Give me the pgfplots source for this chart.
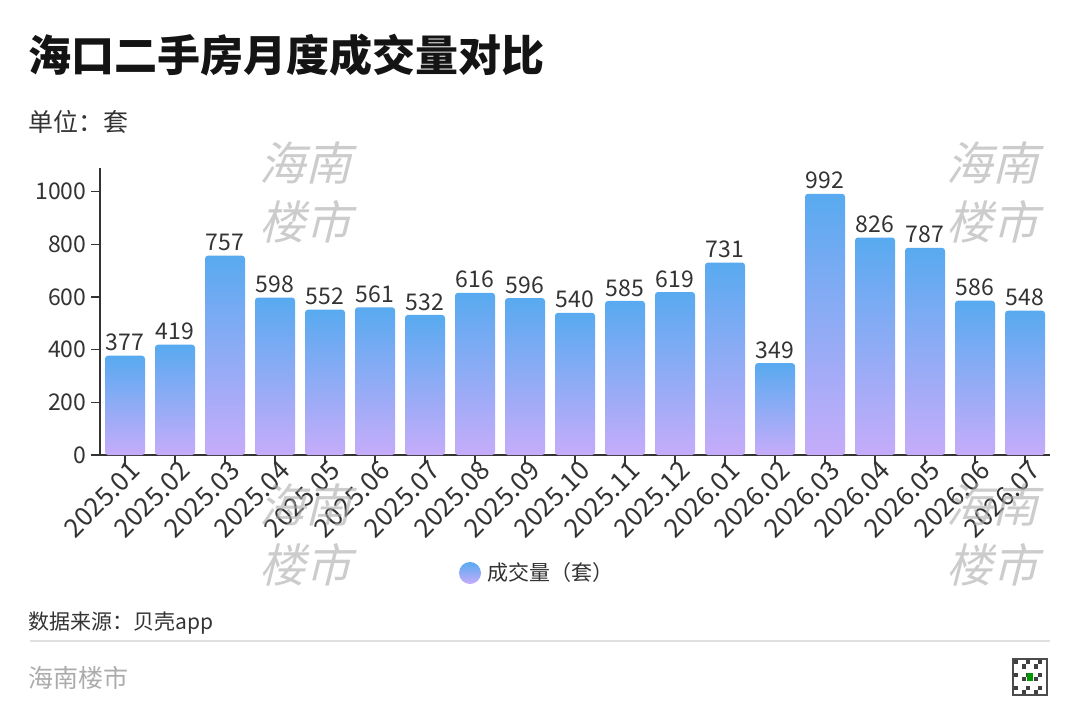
\documentclass[border=0pt]{standalone}
\usepackage{fontspec}
\setmainfont{Noto Sans CJK SC}
\usepackage{pgfplots}
\pgfplotsset{compat=1.18}
\definecolor{bartop}{RGB}{88,170,240}
\definecolor{barbot}{RGB}{198,172,250}
\definecolor{txt}{RGB}{51,51,51}
\definecolor{wmgray}{RGB}{170,170,170}
\newcommand{\wm}[2]{\node[font=\fontsize{46}{50}\selectfont, text=wmgray, opacity=0.6, xslant=0.25] at (#1) {#2};}
\newcommand{\onebar}[2]{\addplot[draw=none, top color=bartop, bottom color=barbot, rounded corners=3pt] coordinates {(#1,#2)};}
\begin{document}
\begin{tikzpicture}
\begin{scope}[x=1pt,y=1pt]
\useasboundingbox (0,0) rectangle (1080,-720);
\fill[white] (0,0) rectangle (1080,-720);
\node[anchor=west, font=\fontsize{43}{48}\selectfont\bfseries, text=black!92, inner sep=0] at (28,-55) {海口二手房月度成交量对比};
\node[anchor=west, font=\fontsize{25}{28}\selectfont, text=txt, inner sep=0] at (28,-122) {单位：套};
\end{scope}
\begin{axis}[
  at={(100pt,-455pt)}, anchor=south west,
  scale only axis, width=950pt, height=287pt,
  xmin=-0.5, xmax=18.5, ymin=0, ymax=1090,
  axis lines*=left,
  axis line style={draw=txt, line width=1.4pt},
  ybar, bar width=40pt, bar shift=0pt,
  ytick={0,200,400,600,800,1000},
  xtick={0,...,18},
  xticklabels={2025.01,2025.02,2025.03,2025.04,2025.05,2025.06,2025.07,2025.08,2025.09,2025.10,2025.11,2025.12,2026.01,2026.02,2026.03,2026.04,2026.05,2026.06,2026.07},
  tick align=outside, major tick length=9pt,
  tick style={draw=txt, line width=1.2pt},
  /pgf/number format/assume math mode=true,
  /pgf/number format/1000 sep={},
  yticklabel style={font=\fontsize{23}{26}\selectfont, text=txt, xshift=-1pt},
  xticklabel style={rotate=45, anchor=north east, font=\fontsize{26}{30}\selectfont, text=txt, xshift=8pt, yshift=3pt, inner sep=2pt},
  nodes near coords,
  every node near coord/.append style={font=\fontsize{23}{26}\selectfont, text=txt, yshift=1pt},
]
\onebar{0}{377}
\onebar{1}{419}
\onebar{2}{757}
\onebar{3}{598}
\onebar{4}{552}
\onebar{5}{561}
\onebar{6}{532}
\onebar{7}{616}
\onebar{8}{596}
\onebar{9}{540}
\onebar{10}{585}
\onebar{11}{619}
\onebar{12}{731}
\onebar{13}{349}
\onebar{14}{992}
\onebar{15}{826}
\onebar{16}{787}
\onebar{17}{586}
\onebar{18}{548}
\end{axis}
\begin{scope}[x=1pt,y=1pt]
\shade[top color=bartop, bottom color=barbot] (470,-573) circle (11);
\node[anchor=west, font=\fontsize{21}{24}\selectfont, text=txt] at (484,-573) {成交量（套）};
\node[anchor=west, font=\fontsize{21}{24}\selectfont, text=txt, inner sep=0] at (28,-623) {数据来源：贝壳app};
\draw[gray!25, line width=2pt] (30,-641) -- (1050,-641);
\node[anchor=west, font=\fontsize{25}{28}\selectfont, text=gray!65, inner sep=0] at (28,-678) {海南楼市};
\fill[black!70] (1012,-658) rectangle (1048,-696);
\fill[white] (1014,-660) rectangle (1046,-694);
\foreach \i in {0,...,7}{\foreach \j in {0,...,7}{
  \pgfmathtruncatemacro{\qr}{mod(\i*7+\j*5+\i*\j,3)}
  \ifnum\qr=0 \fill[black!75] ({1014+4*\i},{-660-4.25*\j}) rectangle ++(4,-4.25);\fi}}
\fill[green!60!black] (1027,-673) rectangle (1033,-681);
\wm{310,-163}{海南}
\wm{310,-222}{楼市}
\wm{997,-163}{海南}
\wm{997,-222}{楼市}
\wm{310,-505}{海南}
\wm{310,-565}{楼市}
\wm{997,-505}{海南}
\wm{997,-565}{楼市}
\end{scope}
\end{tikzpicture}
\end{document}
